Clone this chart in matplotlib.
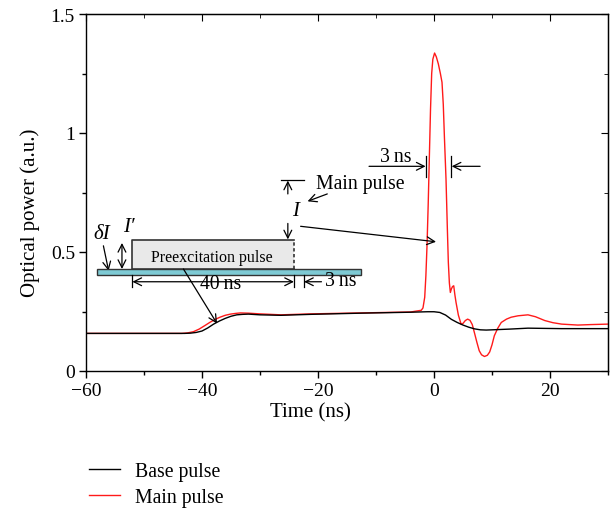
import matplotlib
matplotlib.use("Agg")
import matplotlib.pyplot as plt
from matplotlib.patches import Rectangle
from matplotlib.ticker import MultipleLocator

plt.rcParams['font.family'] = ['Liberation Serif', 'DejaVu Serif']

# ---- data ----
base_t = [-60, -50, -44, -43, -42, -41, -40, -39, -38, -37, -36, -35, -34, -33, -32, -30,
          -26.4, -21.3, -12.6, -4, -1.1, 0, 1, 2, 3, 4, 5, 6, 7, 8, 9, 10, 13, 16.2, 22, 30]
base_v = [0.158, 0.158, 0.158, 0.158, 0.159, 0.162, 0.168, 0.181, 0.197, 0.210, 0.221, 0.230,
          0.236, 0.238, 0.239, 0.236, 0.234, 0.238, 0.243, 0.247, 0.249, 0.249, 0.246, 0.235,
          0.217, 0.204, 0.193, 0.184, 0.177, 0.173, 0.172, 0.173, 0.176, 0.180, 0.178, 0.178]

main_t = [-60, -50, -44, -43.5, -42.5, -41.5, -40.5, -39.5, -38.6, -37.7, -36.9, -36, -35.1,
          -34.2, -33.4, -32, -30, -26.4, -21.3, -12.6, -4, -3, -2.2, -1.9, -1.6, -1.4, -1.2,
          -1.0, -0.8, -0.6, -0.4, -0.2, 0.1, 0.4, 0.75, 1.1, 1.38, 1.6, 1.8, 2.07, 2.3, 2.47,
          2.65, 2.82, 3.0, 3.2, 3.4, 3.6, 3.8, 4.2, 4.67, 5.0, 5.4, 5.8, 6.2, 6.6, 7.0, 7.4,
          7.8, 8.2, 8.7, 9.2, 9.6, 10.0, 10.4, 11.0, 11.6, 12.5, 13.3, 14.5, 16.2, 17.5, 19.1,
          20.5, 22, 24.8, 27, 30]
main_v = [0.158, 0.158, 0.158, 0.158, 0.160, 0.165, 0.176, 0.191, 0.205, 0.217, 0.226, 0.234,
          0.239, 0.242, 0.244, 0.243, 0.240, 0.236, 0.240, 0.244, 0.248, 0.252, 0.255, 0.265,
          0.310, 0.400, 0.530, 0.700, 0.900, 1.100, 1.250, 1.310, 1.336, 1.320, 1.290, 1.250,
          1.213, 1.120, 0.980, 0.807, 0.600, 0.457, 0.370, 0.330, 0.345, 0.355, 0.358, 0.320,
          0.288, 0.235, 0.197, 0.200, 0.212, 0.218, 0.213, 0.195, 0.158, 0.120, 0.085, 0.068,
          0.061, 0.066, 0.080, 0.110, 0.148, 0.180, 0.204, 0.218, 0.226, 0.232, 0.236, 0.228,
          0.212, 0.203, 0.197, 0.193, 0.195, 0.197]

series_labels = ["Base pulse", "Main pulse"]
x_ticks = [-60, -40, -20, 0, 20]
x_tick_labels = ["\u221260", "\u221240", "\u221220", "0", "20"]
y_ticks = [0, 0.5, 1, 1.5]
y_tick_labels = ["0", "0.5", "1", "1.5"]

FS_TICK = 14
FS_LABEL = 15
FS_ANN = 14.2

fig = plt.figure(figsize=(6.16, 5.10), dpi=100)
ax = fig.add_axes([86/616, 1-372/510, (608-86)/616, (372-15)/510])

l1, = ax.plot(base_t, base_v, color='black', lw=1.0, label=series_labels[0], zorder=3)
l2, = ax.plot(main_t, main_v, color='#ff1a1a', lw=1.0, label=series_labels[1], zorder=2)

ax.set_xlim(-60, 30)
ax.set_ylim(0, 1.5)
ax.set_xticks(x_ticks)
ax.set_xticklabels(x_tick_labels)
ax.set_yticks(y_ticks)
ax.set_yticklabels(y_tick_labels)
ax.xaxis.set_minor_locator(MultipleLocator(10))
ax.yaxis.set_minor_locator(MultipleLocator(0.25))
ax.tick_params(which='major', direction='out', length=5, width=1, labelsize=FS_TICK, pad=3)
ax.tick_params(which='minor', direction='out', length=3, width=1)
for s in ax.spines.values():
    s.set_linewidth(1.0)

secx = ax.secondary_xaxis('top')
secx.set_xticks(x_ticks)
secx.xaxis.set_minor_locator(MultipleLocator(10))
secx.tick_params(which='major', direction='in', length=5, labeltop=False)
secx.tick_params(which='minor', direction='in', length=3)
secy = ax.secondary_yaxis('right')
secy.set_yticks(y_ticks)
secy.yaxis.set_minor_locator(MultipleLocator(0.25))
secy.tick_params(which='major', direction='in', length=5, labelright=False)
secy.tick_params(which='minor', direction='in', length=3)

ax.set_xlabel("Time (ns)", fontsize=FS_LABEL, labelpad=2)
ax.set_ylabel("Optical power (a.u.)", fontsize=FS_LABEL, labelpad=8)
ax.xaxis.label.set_x(0.429)
ax.yaxis.label.set_y(0.447)

# ---- annotations ----
lw = 0.9
arr = dict(arrowstyle='->', color='black', lw=lw, shrinkA=0, shrinkB=0,
           mutation_scale=14)
darr = dict(arrowstyle='<->', color='black', lw=lw, shrinkA=0, shrinkB=0,
            mutation_scale=14)

# cyan base bar
ax.add_patch(Rectangle((-58.1, 0.404), 45.5, 0.024, facecolor='#7ecad4',
                       edgecolor='#333333', lw=1.0, zorder=4))
# preexcitation pulse rectangle
ax.add_patch(Rectangle((-52.0, 0.4286), 27.85, 0.1214, facecolor='#e9e9e9',
                       edgecolor='none', zorder=4))
ax.plot([-24.15, -52.0, -52.0, -24.15], [0.550, 0.550, 0.4286, 0.4286],
        color='#333333', lw=1.2, zorder=5)
ax.plot([-24.15, -24.15], [0.4286, 0.550], color='#333333', lw=1.2,
        ls=(0, (2, 1.5)), zorder=5)
ax.text(-38.25, 0.480, "Preexcitation pulse", fontsize=11.5, ha='center',
        va='center', zorder=6)

# 40 ns
ax.annotate('', xy=(-52.0, 0.375), xytext=(-24.15, 0.375), arrowprops=darr, zorder=6)
for xb in (-52.0, -24.15, -22.5):
    ax.plot([xb, xb], [0.353, 0.403], color='black', lw=lw, zorder=6)
ax.text(-36.8, 0.366, "40\u2009ns", fontsize=FS_ANN, ha='center', va='center', zorder=6)
# 3 ns (lower)
ax.annotate('', xy=(-22.4, 0.375), xytext=(-19.4, 0.375), arrowprops=arr, zorder=6)
ax.text(-16.1, 0.382, "3\u2009ns", fontsize=FS_ANN, ha='center', va='center', zorder=6)

# arrow from preexcitation to curve
ax.annotate('', xy=(-37.4, 0.199), xytext=(-43.2, 0.4286), arrowprops=arr, zorder=6)

# delta I
ax.text(-57.3, 0.578, "\u03b4I", fontsize=15, style='italic', ha='center', va='center')
ax.annotate('', xy=(-56.1, 0.421), xytext=(-57.0, 0.526), arrowprops=arr)
# I'
ax.text(-52.6, 0.606, "I\u2032", fontsize=15, style='italic', ha='center', va='center')
ax.annotate('', xy=(-53.8, 0.4286), xytext=(-53.8, 0.538), arrowprops=darr)

# I (main pulse height)
ax.text(-23.8, 0.675, "I", fontsize=15, style='italic', ha='center', va='center')
ax.annotate('', xy=(-25.2, 0.553), xytext=(-25.2, 0.620), arrowprops=arr)
ax.annotate('', xy=(-25.2, 0.800), xytext=(-25.2, 0.744), arrowprops=arr)
ax.plot([-26.4, -22.5], [0.8025, 0.8025], color='black', lw=lw)
ax.text(-20.4, 0.786, "Main pulse", fontsize=FS_ANN, ha='left', va='center')
ax.annotate('', xy=(-21.8, 0.713), xytext=(-18.4, 0.744), arrowprops=arr)
ax.annotate('', xy=(0.35, 0.543), xytext=(-23.0, 0.608), arrowprops=arr)

# 3 ns (peak)
ax.text(-6.6, 0.900, "3\u2009ns", fontsize=FS_ANN, ha='center', va='center')
ax.annotate('', xy=(-1.45, 0.860), xytext=(-11.2, 0.860), arrowprops=arr)
ax.annotate('', xy=(3.05, 0.860), xytext=(7.95, 0.860), arrowprops=arr)
for xb in (-1.33, 2.94):
    ax.plot([xb, xb], [0.814, 0.905], color='black', lw=lw)

# legend
fig.legend(handles=[l1, l2], labels=series_labels, loc='upper left',
           bbox_to_anchor=(81/616, 1-455/510), frameon=False, fontsize=FS_ANN,
           handlelength=1.6, handletextpad=0.75, labelspacing=0.38, borderaxespad=0)

fig.savefig("out.png", dpi=100)
